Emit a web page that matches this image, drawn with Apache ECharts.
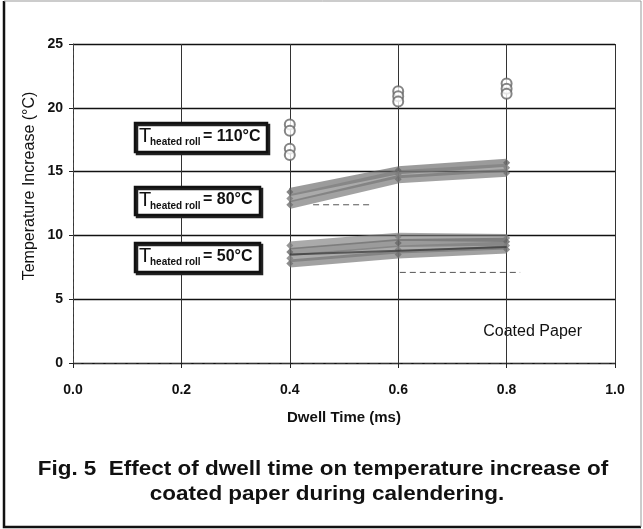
<!DOCTYPE html>
<html>
<head>
    <meta charset="utf-8" />
    <title>Dwell time vs temperature increase</title>
    <script src="https://cdn.jsdelivr.net/npm/echarts@6/dist/echarts.min.js"></script>
</head>
<body style="margin: 0; background: #fff">
    <div id="main" style="width: 643px; height: 529px"></div>
    <script type="text/javascript">
        // dwell time (ms) of the three measured nips
        var dwell = [0.4, 0.6, 0.8];

        // T heated roll = 80 C, repeated runs (temperature increase, C)
        var run80a = [13.4, 15.1, 15.7];
        var run80b = [12.9, 14.8, 15.3];
        var run80c = [12.4, 14.4, 14.9];

        // T heated roll = 50 C
        var run50a = [9.2, 9.9, 9.8];
        var run50b = [8.7, 9.4, 9.5];
        var run50c = [8.2, 8.9, 9.2];
        var run50d = [7.8, 8.5, 8.9];
        var run50dark = [8.5, 8.8, 9.1];

        // T heated roll = 110 C, single points
        var dwell110 = [0.4, 0.4, 0.4, 0.4, 0.6, 0.6, 0.6, 0.8, 0.8, 0.8];
        var temp110 = [18.7, 18.2, 16.8, 16.3, 21.3, 20.9, 20.5, 21.9, 21.5, 21.1];

        // faint dashed fragments seen in the scan
        var fragAx = [0.443, 0.553];
        var fragAy = [12.4, 12.4];
        var fragBx = [0.603, 0.825];
        var fragBy = [7.1, 7.1];

        var xTicks = [0, 0.2, 0.4, 0.6, 0.8, 1.0];
        var yTicks = [0, 5, 10, 15, 20, 25];

        var font = "'Liberation Sans', Arial, sans-serif";

        function pairs(xs, ys) {
            return xs.map(function (x, i) {
                return [x, ys[i]];
            });
        }

        function band(name, ys, color) {
            return {
                name: name,
                type: "line",
                data: pairs(dwell, ys),
                symbol: "diamond",
                symbolSize: 7,
                itemStyle: { color: color, opacity: 0.8 },
                lineStyle: { color: color, width: 8, opacity: 0.65 },
                z: 3,
            };
        }

        function fragment(xs, ys) {
            return {
                type: "line",
                data: pairs(xs, ys),
                symbol: "none",
                lineStyle: { color: "#555", width: 1, type: [6, 4] },
                z: 2,
            };
        }

        function label(top, height, width, tail) {
            var left = 135;
            var mid = top + height / 2;
            return [
                {
                    type: "rect",
                    shape: { x: left, y: top, width: width, height: height },
                    style: {
                        fill: "#fff",
                        stroke: "#111",
                        lineWidth: 2.5,
                        shadowColor: "#222",
                        shadowOffsetX: 2,
                        shadowOffsetY: 2,
                    },
                    z: 10,
                },
                {
                    type: "text",
                    x: left + 4,
                    y: mid - 1,
                    style: { text: "T", font: "20px " + font, fill: "#111", verticalAlign: "middle" },
                    z: 11,
                },
                {
                    type: "text",
                    x: left + 15,
                    y: mid + 5,
                    style: { text: "heated roll", font: "bold 10px " + font, fill: "#111", verticalAlign: "middle" },
                    z: 11,
                },
                {
                    type: "text",
                    x: left + 68,
                    y: mid - 1,
                    style: { text: tail, font: "bold 16px " + font, fill: "#111", verticalAlign: "middle" },
                    z: 11,
                },
            ];
        }

        var graphics = [
            {
                type: "polyline",
                shape: { points: [[4, 1], [4, 527], [641, 527]] },
                style: { fill: "none", stroke: "#111", lineWidth: 2.5 },
                z: 0,
            },
            {
                type: "polyline",
                shape: { points: [[4, 1], [641, 1], [641, 527]] },
                style: { fill: "none", stroke: "#999", lineWidth: 1 },
                z: 0,
            },
            {
                type: "text",
                x: 30,
                y: 186,
                rotation: Math.PI / 2,
                style: {
                    text: "Temperature Increase (°C)",
                    font: "16px " + font,
                    fill: "#111",
                    align: "center",
                    verticalAlign: "middle",
                },
            },
            {
                type: "text",
                x: 582,
                y: 332,
                style: { text: "Coated Paper", font: "16px " + font, fill: "#111", align: "right", verticalAlign: "middle" },
            },
            {
                type: "text",
                x: 323,
                y: 469,
                scaleX: 1.07,
                style: {
                    text: "Fig. 5  Effect of dwell time on temperature increase of",
                    font: "bold 21px " + font,
                    fill: "#111",
                    align: "center",
                    verticalAlign: "middle",
                },
            },
            {
                type: "text",
                x: 327,
                y: 494,
                scaleX: 1.07,
                style: {
                    text: "coated paper during calendering.",
                    font: "bold 21px " + font,
                    fill: "#111",
                    align: "center",
                    verticalAlign: "middle",
                },
            },
        ]
            .concat(label(123, 29, 132, "= 110°C"))
            .concat(label(187, 28, 125, "= 80°C"))
            .concat(label(243, 29, 125, "= 50°C"));

        var myChart = echarts.init(document.getElementById("main"));

        var option = {
            backgroundColor: "#fff",
            animation: false,
            grid: { left: 73, right: 28, top: 44, bottom: 166 },
            xAxis: {
                type: "value",
                min: xTicks[0],
                max: xTicks[xTicks.length - 1],
                interval: 0.2,
                name: "Dwell Time (ms)",
                nameLocation: "middle",
                nameGap: 47,
                nameTextStyle: { fontFamily: font, fontWeight: "bold", fontSize: 15, color: "#111" },
                axisLine: { show: true, lineStyle: { color: "#333", type: [8, 3] } },
                axisTick: { show: true, length: 5, lineStyle: { color: "#222" } },
                axisLabel: {
                    margin: 20,
                    fontFamily: font,
                    fontWeight: "bold",
                    fontSize: 14,
                    color: "#111",
                    formatter: function (v) {
                        return v.toFixed(1);
                    },
                },
                splitLine: { show: true, lineStyle: { color: "#333", width: 1 } },
            },
            yAxis: {
                type: "value",
                min: yTicks[0],
                max: yTicks[yTicks.length - 1],
                interval: 5,
                axisLine: { show: true, lineStyle: { color: "#444", type: [4, 3] } },
                axisTick: { show: true, length: 4, lineStyle: { color: "#222" } },
                axisLabel: { margin: 10, fontFamily: font, fontWeight: "bold", fontSize: 14, color: "#111" },
                splitLine: { show: true, lineStyle: { color: "#111", width: 1.4 } },
            },
            series: [
                band("80a", run80a, "#666"),
                band("80b", run80b, "#7d7d7d"),
                band("80c", run80c, "#707070"),
                band("50a", run50a, "#7d7d7d"),
                band("50b", run50b, "#666"),
                band("50c", run50c, "#7d7d7d"),
                band("50d", run50d, "#707070"),
                {
                    name: "50dark",
                    type: "line",
                    data: pairs(dwell, run50dark),
                    symbol: "none",
                    lineStyle: { color: "#333", width: 2, opacity: 0.7 },
                    z: 4,
                },
                {
                    name: "110",
                    type: "scatter",
                    data: pairs(dwell110, temp110),
                    symbol: "emptyCircle",
                    symbolSize: 10,
                    itemStyle: { color: "#666", borderWidth: 1.5 },
                    z: 5,
                },
                fragment(fragAx, fragAy),
                fragment(fragBx, fragBy),
            ],
            graphic: graphics,
        };

        myChart.setOption(option);
    </script>
</body>
</html>
